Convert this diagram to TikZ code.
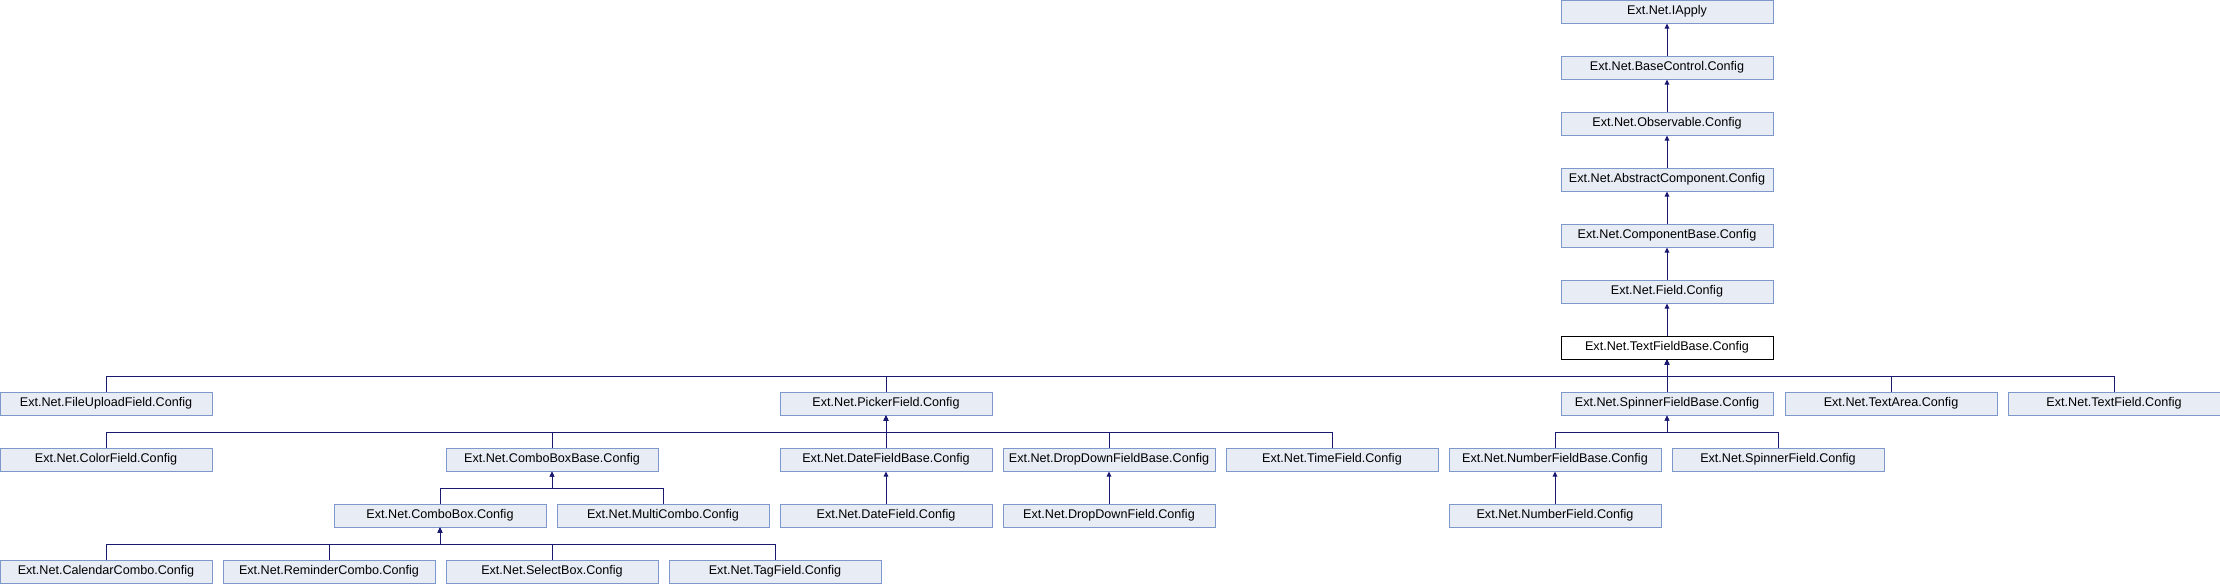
\documentclass[tikz,border=0pt]{standalone}
\usepackage{fontspec}
\setmainfont{Liberation Sans}
\usetikzlibrary{arrows.meta}
\definecolor{boxfill}{HTML}{E8ECF5}
\definecolor{boxline}{HTML}{7F98CB}
\definecolor{edgeblue}{HTML}{191970}
\tikzset{
  cls/.style={draw=boxline,fill=boxfill,line width=1pt,minimum width=212pt,
    minimum height=23pt,inner sep=0pt,font=\fontsize{12.6}{14}\selectfont},
  cur/.style={cls,draw=black,fill=white},
  inh/.style={draw=edgeblue,line width=1pt,{Triangle[length=5pt,width=4.5pt]}-}
}

\begin{document}
\begin{tikzpicture}[x=1pt,y=-1pt]
        \useasboundingbox (0,0) rectangle (2220,584);

        \node[cls] (apply) at (1667,11.5) {Ext.Net.IApply};
        \node[cls] (basectl) at (1667,67.5) {Ext.Net.BaseControl.Config};
        \node[cls] (observ) at (1667,123.5) {Ext.Net.Observable.Config};
        \node[cls] (abscomp) at (1667,179.5) {Ext.Net.AbstractComponent.Config};
        \node[cls] (compbase) at (1667,235.5) {Ext.Net.ComponentBase.Config};
        \node[cls] (field) at (1667,291.5) {Ext.Net.Field.Config};
        \node[cur] (textbase) at (1667,347.5) {Ext.Net.TextFieldBase.Config};

        \node[cls] (fileup) at (106,403.5) {Ext.Net.FileUploadField.Config};
        \node[cls] (picker) at (886,403.5) {Ext.Net.PickerField.Config};
        \node[cls] (spinbase) at (1667,403.5) {Ext.Net.SpinnerFieldBase.Config};
        \node[cls] (textarea) at (1891,403.5) {Ext.Net.TextArea.Config};
        \node[cls] (textfield) at (2114,403.5) {Ext.Net.TextField.Config};

        \node[cls] (color) at (106,459.5) {Ext.Net.ColorField.Config};
        \node[cls] (cbbase) at (552,459.5) {Ext.Net.ComboBoxBase.Config};
        \node[cls] (datebase) at (886,459.5) {Ext.Net.DateFieldBase.Config};
        \node[cls] (ddbase) at (1109,459.5) {Ext.Net.DropDownFieldBase.Config};
        \node[cls] (time) at (1332,459.5) {Ext.Net.TimeField.Config};
        \node[cls] (numbase) at (1555,459.5) {Ext.Net.NumberFieldBase.Config};
        \node[cls] (spinner) at (1778,459.5) {Ext.Net.SpinnerField.Config};

        \node[cls] (combo) at (440,515.5) {Ext.Net.ComboBox.Config};
        \node[cls] (multi) at (663,515.5) {Ext.Net.MultiCombo.Config};
        \node[cls] (date) at (886,515.5) {Ext.Net.DateField.Config};
        \node[cls] (dd) at (1109,515.5) {Ext.Net.DropDownField.Config};
        \node[cls] (num) at (1555,515.5) {Ext.Net.NumberField.Config};

        \node[cls] (calendar) at (106,571.5) {Ext.Net.CalendarCombo.Config};
        \node[cls] (reminder) at (329,571.5) {Ext.Net.ReminderCombo.Config};
        \node[cls] (select) at (552,571.5) {Ext.Net.SelectBox.Config};
        \node[cls] (tag) at (775,571.5) {Ext.Net.TagField.Config};

        \draw[inh] (apply) -- (basectl);
        \draw[inh] (basectl) -- (observ);
        \draw[inh] (observ) -- (abscomp);
        \draw[inh] (abscomp) -- (compbase);
        \draw[inh] (compbase) -- (field);
        \draw[inh] (field) -- (textbase);

        \draw[inh] (textbase.south) -- ++(0,16.5) -| (fileup.north);
        \draw[inh] (textbase.south) -- ++(0,16.5) -| (picker.north);
        \draw[inh] (textbase.south) -- (spinbase.north);
        \draw[inh] (textbase.south) -- ++(0,16.5) -| (textarea.north);
        \draw[inh] (textbase.south) -- ++(0,16.5) -| (textfield.north);

        \draw[inh] (picker.south) -- ++(0,16.5) -| (color.north);
        \draw[inh] (picker.south) -- ++(0,16.5) -| (cbbase.north);
        \draw[inh] (picker.south) -- (datebase.north);
        \draw[inh] (picker.south) -- ++(0,16.5) -| (ddbase.north);
        \draw[inh] (picker.south) -- ++(0,16.5) -| (time.north);
        \draw[inh] (spinbase.south) -- ++(0,16.5) -| (numbase.north);
        \draw[inh] (spinbase.south) -- ++(0,16.5) -| (spinner.north);

        \draw[inh] (cbbase.south) -- ++(0,16.5) -| (combo.north);
        \draw[inh] (cbbase.south) -- ++(0,16.5) -| (multi.north);
        \draw[inh] (datebase) -- (date);
        \draw[inh] (ddbase) -- (dd);
        \draw[inh] (numbase) -- (num);

        \draw[inh] (combo.south) -- ++(0,16.5) -| (calendar.north);
        \draw[inh] (combo.south) -- ++(0,16.5) -| (reminder.north);
        \draw[inh] (combo.south) -- ++(0,16.5) -| (select.north);
        \draw[inh] (combo.south) -- ++(0,16.5) -| (tag.north);
      \end{tikzpicture}
\end{document}
